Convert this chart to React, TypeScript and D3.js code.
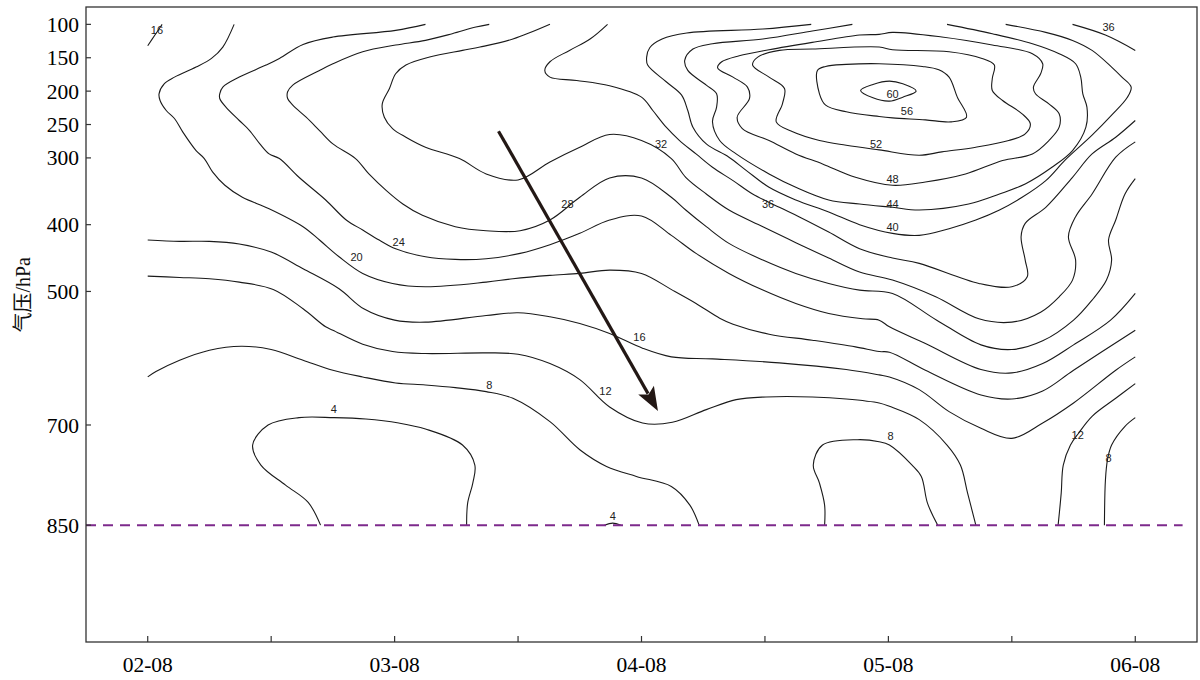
import * as d3 from "d3"
import React, { useEffect, useRef } from "react"

// x: hours after 02-08, y: pressure (hPa)
const dayTicks = [0, 24, 48, 72, 96]
const dayLabels = ["02-08", "03-08", "04-08", "05-08", "06-08"]
const halfDayTicks = [0, 12, 24, 36, 48, 60, 72, 84, 96]
const pressureTicks = [100, 150, 200, 250, 300, 400, 500, 700, 850]

// contour lines, [hour, hPa]
const c16a = [[0, 132], [0.7, 116], [1.4, 100]]
const c20 = [[8.4, 100], [7.3, 134], [6.2, 151], [4.7, 164], [2.6, 179], [1.6, 189], [1.1, 204], [1.2, 214], [1.8, 229], [2.6, 241], [3.4, 261], [4.7, 289], [5.5, 301], [6.3, 321], [7.5, 341], [9.2, 359], [11.8, 376], [15.1, 403], [16.7, 423], [18.6, 448], [20.9, 473], [23.8, 488], [27.0, 493], [32.9, 486], [35.5, 481], [39.1, 476], [42.0, 473], [44.9, 468], [48.0, 473], [51.0, 498], [53.3, 518], [55.6, 540], [56.9, 549], [60.4, 564], [64.6, 573], [68.8, 583], [71.1, 590], [72.1, 591], [75.6, 618], [81.0, 655], [84.0, 661], [87.0, 649], [90.0, 618], [96.0, 558]]
const c24 = [[27.0, 100], [24.1, 109], [18.0, 119], [15.1, 130], [12.8, 151], [11.5, 161], [8.9, 179], [7.3, 194], [7.0, 204], [7.0, 211], [7.6, 224], [8.9, 244], [9.9, 259], [10.9, 279], [11.8, 294], [12.8, 301], [14.7, 329], [17.3, 363], [19.3, 393], [20.9, 408], [22.5, 423], [24.1, 436], [27.0, 448], [29.9, 452], [32.9, 451], [36.2, 443], [39.1, 430], [42.0, 413], [44.9, 393], [48.0, 387], [50.9, 416], [53.3, 443], [56.5, 473], [59.8, 498], [63.0, 518], [66.2, 533], [69.5, 541], [71.1, 543], [72.1, 553], [75.6, 578], [81.0, 617], [84.0, 622], [87.0, 608], [90.0, 580], [93.6, 543], [96.0, 503]]
const c28 = [[33.2, 100], [31.9, 104], [29.6, 114], [27.0, 124], [24.1, 131], [20.9, 141], [18.0, 159], [16.7, 169], [14.1, 191], [13.6, 201], [13.6, 211], [14.1, 221], [15.4, 239], [16.7, 259], [18.0, 279], [20.2, 301], [21.5, 324], [23.2, 349], [24.8, 369], [26.7, 386], [29.9, 403], [32.9, 409], [36.2, 409], [39.1, 393], [42.0, 359], [44.9, 330], [48.0, 330], [50.9, 359], [52.3, 378], [54.3, 403], [56.5, 428], [59.8, 453], [63.0, 473], [66.2, 488], [69.2, 498], [72.4, 503], [76.7, 543], [81.0, 580], [84.0, 587], [87.0, 574], [90.0, 543], [91.8, 513], [93.2, 483], [93.7, 453], [93.4, 423], [94.1, 393], [95.0, 354], [96.0, 331]]
const c32 = [[39.1, 100], [35.5, 122], [32.3, 134], [30.6, 139], [27.4, 149], [25.1, 161], [24.1, 174], [23.5, 196], [22.8, 219], [23.0, 239], [23.8, 256], [25.1, 269], [27.0, 284], [30.3, 301], [32.9, 324], [36.0, 333], [39.1, 306], [42.0, 284], [44.9, 265], [48.0, 274], [50.9, 301], [52.3, 329], [54.3, 354], [56.5, 378], [59.8, 403], [63.0, 427], [66.2, 450], [69.2, 471], [72.4, 483], [76.6, 508], [80.8, 541], [84.0, 546], [86.8, 531], [88.6, 508], [89.9, 483], [90.2, 453], [89.5, 418], [90.2, 388], [91.8, 354], [94.1, 299], [96.0, 276]]
const c36 = [[44.7, 100], [43.0, 122], [41.0, 139], [39.1, 156], [38.6, 169], [39.1, 179], [41.7, 184], [44.9, 192], [48.0, 209], [49.1, 229], [50.4, 254], [51.7, 274], [53.3, 294], [54.9, 314], [56.9, 334], [58.8, 354], [61.4, 374], [63.3, 388], [66.2, 411], [69.2, 436], [72.4, 450], [75.0, 458], [80.8, 488], [84.0, 493], [85.5, 478], [85.3, 453], [84.9, 418], [85.3, 398], [87.3, 374], [89.9, 329], [91.8, 294], [94.1, 269], [96.0, 244]]
const c36b = [[89.9, 100], [93.1, 116], [96.0, 139]]
const c40 = [[64.5, 100], [59.8, 107], [52.4, 113], [50.0, 122], [48.8, 135], [48.5, 149], [48.6, 161], [50.4, 186], [51.9, 206], [52.5, 229], [53.0, 254], [54.3, 279], [56.5, 299], [58.2, 319], [60.4, 344], [63.0, 363], [66.2, 381], [69.2, 400], [72.4, 413], [75.0, 416], [77.9, 406], [80.5, 393], [82.8, 378], [85.0, 359], [87.3, 334], [89.2, 303], [91.8, 266], [93.7, 236], [95.2, 210], [95.6, 194], [94.7, 179], [93.7, 164], [91.8, 139], [89.9, 124], [87.3, 112], [83.4, 100]]
const c44 = [[68.5, 100], [64.6, 110], [59.8, 122], [54.9, 129], [53.0, 137], [52.2, 154], [52.5, 169], [54.3, 191], [55.3, 204], [55.3, 224], [54.9, 246], [55.6, 274], [57.2, 294], [60.4, 324], [63.0, 344], [66.2, 363], [69.2, 369], [72.4, 374], [75.0, 378], [79.8, 369], [82.8, 354], [85.3, 339], [87.9, 314], [89.9, 289], [91.2, 254], [91.3, 224], [90.9, 204], [90.7, 179], [90.2, 159], [88.6, 144], [86.0, 129], [82.1, 114], [77.7, 100]]
const c48 = [[71.1, 115], [69.2, 116], [64.6, 127], [60.4, 138], [57.5, 147], [55.8, 156], [55.4, 165], [56.9, 179], [58.3, 194], [58.5, 211], [57.3, 239], [57.8, 256], [60.4, 274], [63.0, 294], [65.6, 309], [68.8, 329], [72.4, 341], [75.6, 336], [79.5, 324], [83.1, 304], [86.0, 294], [87.6, 274], [88.6, 254], [88.6, 234], [87.6, 219], [86.3, 204], [86.1, 194], [86.8, 174], [87.0, 159], [86.0, 144], [82.1, 131], [77.2, 119], [72.4, 112]]
const c52 = [[71.1, 134], [64.6, 137], [61.4, 139], [59.3, 149], [58.8, 161], [60.4, 179], [61.9, 196], [61.7, 219], [61.1, 246], [62.7, 261], [65.3, 274], [67.9, 281], [71.1, 288], [75.0, 296], [77.2, 291], [80.5, 284], [83.7, 274], [85.3, 264], [85.8, 249], [85.0, 234], [83.1, 214], [82.1, 199], [82.1, 181], [82.3, 161], [81.1, 151], [77.9, 141], [72.4, 138]]
const c56 = [[65.1, 169], [65.9, 163], [67.9, 160], [71.1, 159], [75.3, 163], [76.9, 168], [77.9, 179], [78.7, 209], [79.6, 239], [78.1, 246], [75.6, 243], [72.4, 240], [71.1, 238], [67.9, 231], [65.9, 221], [65.3, 204]]
const c60 = [[69.3, 199], [70.5, 190], [72.1, 185], [73.4, 189], [74.7, 200], [73.4, 209], [72.1, 215], [70.5, 210]]
const c16 = [[0, 423], [3.1, 425], [6.0, 425], [8.9, 429], [12.0, 441], [15.1, 466], [18.6, 496], [21.0, 526], [24.0, 543], [27.0, 546], [32.9, 536], [36.0, 532], [39.1, 538], [42.0, 548], [44.9, 563], [48.1, 585], [50.9, 598], [54.9, 601], [61.4, 607], [67.9, 617], [71.1, 625], [72.1, 628], [75.0, 647], [77.9, 680], [81.0, 705], [84.0, 720], [87.0, 697], [90.0, 667], [94.1, 618], [96.0, 598]]
const c12 = [[0, 477], [3.1, 479], [6.0, 481], [8.9, 486], [12.2, 497], [15.1, 526], [17.3, 553], [18.0, 558], [20.9, 579], [23.8, 590], [27.0, 593], [32.9, 592], [36.0, 594], [39.1, 608], [42.0, 632], [44.9, 673], [48.1, 697], [51.0, 696], [54.3, 677], [57.2, 662], [60.1, 658], [64.6, 658], [67.9, 661], [71.1, 667], [72.1, 672], [75.0, 692], [77.7, 730], [79.0, 760], [79.7, 802], [80.5, 850]]
const c12b = [[88.5, 850], [88.8, 802], [89.0, 760], [89.7, 730], [90.5, 712], [91.8, 687], [94.1, 660], [96.0, 638]]
const c8 = [[0, 628], [0.8, 620], [3.1, 603], [6.0, 588], [9.1, 582], [12.0, 587], [15.1, 603], [18.0, 618], [20.9, 628], [24.1, 637], [27.0, 640], [29.9, 644], [32.9, 650], [35.5, 660], [39.1, 695], [42.0, 737], [44.6, 762], [47.5, 777], [50.9, 792], [52.7, 820], [53.6, 850]]
const c8b = [[65.8, 850], [65.8, 820], [65.3, 787], [64.7, 760], [65.6, 730], [69.0, 722], [71.1, 725], [72.1, 730], [74.3, 760], [75.2, 777], [75.8, 817], [76.8, 850]]
const c8c = [[93.0, 850], [93.1, 782], [93.3, 752], [93.7, 730], [95.0, 702], [96.0, 689]]
const c4 = [[16.8, 850], [15.6, 816], [13.4, 790], [11.0, 760], [10.2, 730], [11.7, 700], [14.7, 689], [18.1, 689], [21.2, 691], [24.4, 697], [27.0, 706], [30.6, 730], [31.8, 760], [31.6, 787], [31.1, 817], [31.0, 850]]
const c4b = [[44.4, 850], [45.2, 847], [46.0, 850]]

const openLines = [c16a, c20, c24, c28, c32, c36, c36b, c40, c44, c16, c12, c12b, c8, c8b, c8c, c4, c4b]
const closedLines = [c48, c52, c56, c60]

// contour labels: [text, hour, hPa]
const contourLabels = [
    ["16", 0.9, 109], ["20", 20.3, 448], ["24", 24.4, 426], ["28", 40.8, 369],
    ["32", 49.9, 280], ["36", 60.3, 369], ["40", 72.4, 403], ["44", 72.4, 369],
    ["48", 72.4, 332], ["52", 70.8, 280], ["56", 73.8, 230], ["60", 72.4, 204],
    ["36", 93.4, 104], ["16", 47.8, 569], ["12", 44.5, 650], ["8", 33.2, 640],
    ["4", 18.1, 677], ["4", 45.2, 837], ["8", 72.2, 716], ["12", 90.4, 715],
    ["8", 93.4, 750],
]

// arrow annotation and 850 hPa reference line
const arrowFrom = [34.1, 260]
const arrowTo = [49.6, 679]
const refLevel = 850
const refSpan = [-6, 100.6]

const App = () => {
    const refSvg = useRef(null)

    useEffect(() => {
        const svg = d3.select(refSvg.current)
        const width = 1200, height = 680
        const margins = { left: 86, right: 3, top: 7, bottom: 38 }

        const scaleX = d3.scaleLinear().domain([-6, 102]).range([margins.left, width - margins.right])
        const scaleY = d3.scaleLinear().domain([74, 1025]).range([margins.top, height - margins.bottom])

        svg.selectAll("*").remove()
        svg.append("rect").attr("width", width).attr("height", height).attr("fill", "#fff")

        const line = d3.line().x(d => scaleX(d[0])).y(d => scaleY(d[1])).curve(d3.curveCatmullRom.alpha(0.5))
        const loop = d3.line().x(d => scaleX(d[0])).y(d => scaleY(d[1])).curve(d3.curveCatmullRomClosed.alpha(0.5))

        // contours
        const gC = svg.append("g").attr("fill", "none").attr("stroke", "#1a1a1a").attr("stroke-width", 1.1)
        gC.selectAll(".open").data(openLines).join("path").attr("class", "open").attr("d", d => line(d))
        gC.selectAll(".closed").data(closedLines).join("path").attr("class", "closed").attr("d", d => loop(d))

        svg.append("g")
            .selectAll("text").data(contourLabels).join("text")
            .attr("x", d => scaleX(d[1])).attr("y", d => scaleY(d[2]))
            .attr("dy", "0.35em").attr("text-anchor", "middle")
            .attr("font-family", "'Liberation Sans', Arial, sans-serif").attr("font-size", 11)
            .attr("fill", "#222")
            .text(d => d[0])

        // dashed 850 hPa line
        svg.append("line")
            .attr("x1", scaleX(refSpan[0])).attr("x2", scaleX(refSpan[1]))
            .attr("y1", scaleY(refLevel)).attr("y2", scaleY(refLevel))
            .attr("stroke", "#7d2a8c").attr("stroke-width", 2).attr("stroke-dasharray", "10,7")

        // arrow
        const x0 = scaleX(arrowFrom[0]), y0 = scaleY(arrowFrom[1])
        const x1 = scaleX(arrowTo[0]), y1 = scaleY(arrowTo[1])
        const len = Math.hypot(x1 - x0, y1 - y0)
        const ux = (x1 - x0) / len, uy = (y1 - y0) / len
        const headL = 24, headW = 9
        const bx = x1 - ux * headL, by = y1 - uy * headL
        svg.append("line")
            .attr("x1", x0).attr("y1", y0).attr("x2", bx + ux * 4).attr("y2", by + uy * 4)
            .attr("stroke", "#231815").attr("stroke-width", 3.2)
        svg.append("path")
            .attr("d", `M${x1},${y1}L${bx - uy * headW},${by + ux * headW}L${bx + ux * 5},${by + uy * 5}L${bx + uy * headW},${by - ux * headW}Z`)
            .attr("fill", "#231815")

        // frame
        svg.append("rect")
            .attr("x", margins.left).attr("y", margins.top)
            .attr("width", width - margins.left - margins.right)
            .attr("height", height - margins.top - margins.bottom)
            .attr("fill", "none").attr("stroke", "#333").attr("stroke-width", 1.3)

        const bottom = height - margins.bottom
        const font = "'Liberation Serif', 'Times New Roman', serif"

        // x ticks
        svg.append("g").selectAll("line").data(halfDayTicks).join("line")
            .attr("x1", d => scaleX(d)).attr("x2", d => scaleX(d))
            .attr("y1", bottom).attr("y2", bottom - 6)
            .attr("stroke", "#333").attr("stroke-width", 1.2)
        svg.append("g").selectAll("text").data(dayTicks).join("text")
            .attr("x", d => scaleX(d)).attr("y", 672)
            .attr("text-anchor", "middle").attr("font-family", font).attr("font-size", 21.5)
            .attr("fill", "#000")
            .text((d, i) => dayLabels[i])

        // y ticks
        svg.append("g").selectAll("line").data(pressureTicks).join("line")
            .attr("x1", margins.left).attr("x2", margins.left + 5)
            .attr("y1", d => scaleY(d)).attr("y2", d => scaleY(d))
            .attr("stroke", "#333").attr("stroke-width", 1.2)
        svg.append("g").selectAll("text").data(pressureTicks).join("text")
            .attr("x", 79).attr("y", d => scaleY(d)).attr("dy", "0.35em")
            .attr("text-anchor", "end").attr("font-family", font).attr("font-size", 21.5)
            .attr("fill", "#000")
            .text(d => d)

        svg.append("text")
            .attr("transform", `translate(30, ${scaleY(505)}) rotate(-90)`)
            .attr("text-anchor", "middle")
            .attr("font-family", "'Liberation Serif', 'Noto Sans CJK SC', serif").attr("font-size", 20)
            .attr("fill", "#111")
            .text("气压/hPa")
    }, [])

    return (
        <svg ref={refSvg} width={1200} height={680}
            style={{ position: "absolute", left: 0, top: 0, display: "block" }}></svg>
    )
}

export default App
